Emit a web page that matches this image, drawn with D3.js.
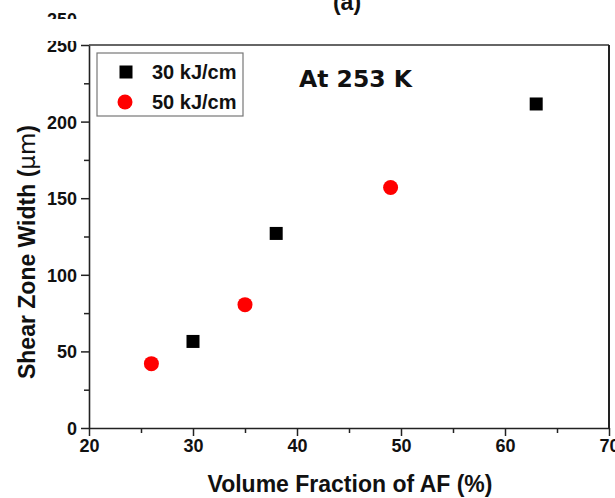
<!DOCTYPE html>
<html>
<head>
<meta charset="utf-8">
<script src="https://cdn.jsdelivr.net/npm/d3@7"></script>
<style>
  body { margin: 0; background: #fff; }
  svg text { font-family: Arial, "Liberation Sans", sans-serif; font-weight: bold; fill: #111; }
</style>
</head>
<body>
<div id="vis"></div>
<script>
// datos
const series = ["30 kJ/cm", "50 kJ/cm"];
const afFraction30 = [30, 38, 63];
const shearWidth30 = [56.5, 127, 211.5];
const afFraction50 = [26, 35, 49];
const shearWidth50 = [42, 80.5, 157];
const xTicks = [20, 30, 40, 50, 60, 70];
const yTicks = [0, 50, 100, 150, 200, 250];

function createVis(rute) {
  const SVG = d3.select(rute)
    .append("svg")
    .attr("width", 615)
    .attr("height", 498);

  const margin = { left: 89, right: 609, top: 45, bottom: 428 };

  const escalaX = d3.scaleLinear().domain([20, 70]).range([margin.left, margin.right]);
  const escalaY = d3.scaleLinear().domain([0, 250]).range([margin.bottom, margin.top]);

  // ejes con ticks menores
  const minorX = d3.range(25, 70, 10);
  const minorY = d3.range(25, 250, 50);

  const ejeX = SVG.append("g").attr("transform", `translate(0,${margin.bottom})`)
    .call(d3.axisBottom(escalaX).tickValues(xTicks).tickSize(8).tickSizeOuter(0).tickPadding(3));
  SVG.append("g").attr("transform", `translate(0,${margin.bottom})`)
    .call(d3.axisBottom(escalaX).tickValues(minorX).tickSize(5).tickFormat(""))
    .select(".domain").remove();

  const ejeY = SVG.append("g").attr("transform", `translate(${margin.left},0)`)
    .call(d3.axisLeft(escalaY).tickValues(yTicks).tickSize(8).tickSizeOuter(0).tickPadding(4));
  SVG.append("g").attr("transform", `translate(${margin.left},0)`)
    .call(d3.axisLeft(escalaY).tickValues(minorY).tickSize(5).tickFormat(""))
    .select(".domain").remove();

  SVG.selectAll(".tick line").attr("stroke", "#222").attr("stroke-width", 1.5);
  SVG.selectAll(".domain").attr("stroke", "#222").attr("stroke-width", 1.6);
  ejeX.selectAll("text").style("font-size", "18px").attr("fill", "#111");
  ejeY.selectAll("text").style("font-size", "18px").attr("fill", "#111").attr("dy", "0.36em");

  // marco superior y derecho
  SVG.append("line")
    .attr("x1", margin.left).attr("x2", margin.right)
    .attr("y1", margin.top).attr("y2", margin.top)
    .attr("stroke", "#333").attr("stroke-width", 1.6);
  SVG.append("line")
    .attr("x1", margin.right).attr("x2", margin.right)
    .attr("y1", margin.top).attr("y2", margin.bottom)
    .attr("stroke", "#222").attr("stroke-width", 2);

  // recorte raro de la figura original: "250" partido y "(a)"
  SVG.append("rect").attr("x", 0).attr("y", 19).attr("width", 86).attr("height", 22).attr("fill", "white");
  SVG.append("clipPath").attr("id", "corte")
    .append("rect").attr("x", 0).attr("y", 0).attr("width", 100).attr("height", 19);
  SVG.append("text")
    .attr("clip-path", "url(#corte)")
    .attr("x", 77).attr("y", 26)
    .attr("text-anchor", "end")
    .style("font-size", "18px")
    .text("250");
  SVG.append("text")
    .attr("x", 347).attr("y", 10)
    .attr("text-anchor", "middle")
    .style("font-size", "23px")
    .text("(a)");

  // puntos
  const datos30 = afFraction30.map((x, i) => ({ x: x, y: shearWidth30[i] }));
  const datos50 = afFraction50.map((x, i) => ({ x: x, y: shearWidth50[i] }));
  const lado = 13;

  SVG.selectAll(".cuadrado")
    .data(datos30)
    .join("rect")
    .attr("class", "cuadrado")
    .attr("x", d => escalaX(d.x) - lado / 2)
    .attr("y", d => escalaY(d.y) - lado / 2)
    .attr("width", lado)
    .attr("height", lado)
    .attr("fill", "#000");

  SVG.selectAll(".circulo")
    .data(datos50)
    .join("circle")
    .attr("class", "circulo")
    .attr("cx", d => escalaX(d.x))
    .attr("cy", d => escalaY(d.y))
    .attr("r", 7.5)
    .attr("fill", "#ff0000");

  // leyenda
  const leyenda = SVG.append("g").attr("transform", "translate(97,53)");
  leyenda.append("rect")
    .attr("width", 146).attr("height", 63)
    .attr("fill", "white").attr("stroke", "#777").attr("stroke-width", 1.2);
  leyenda.append("rect")
    .attr("x", 29 - lado / 2).attr("y", 19 - lado / 2)
    .attr("width", lado).attr("height", lado).attr("fill", "#000");
  leyenda.append("circle")
    .attr("cx", 28).attr("cy", 49).attr("r", 7.5).attr("fill", "#ff0000");
  leyenda.selectAll(".etiqueta")
    .data(series)
    .join("text")
    .attr("class", "etiqueta")
    .attr("x", 55)
    .attr("y", (d, i) => 19 + i * 30)
    .attr("dy", "0.36em")
    .style("font-size", "20px")
    .text(d => d);

  SVG.append("text")
    .attr("x", 299).attr("y", 87)
    .style("font-family", "'DejaVu Sans', Verdana, sans-serif")
    .style("font-size", "23.5px")
    .text("At 253 K");

  // titulos de ejes
  SVG.append("text")
    .attr("x", 350).attr("y", 492)
    .attr("text-anchor", "middle")
    .style("font-size", "23px")
    .text("Volume Fraction of AF (%)");

  const tituloY = SVG.append("text")
    .attr("transform", "translate(35,252) rotate(-90)")
    .attr("text-anchor", "middle")
    .style("font-size", "23px");
  tituloY.append("tspan").text("Shear Zone Width (");
  tituloY.append("tspan").style("font-weight", "normal").style("font-family", "'DejaVu Sans', sans-serif").text("\u03bcm");
  tituloY.append("tspan").text(")");
}

createVis("#vis");
</script>
</body>
</html>
